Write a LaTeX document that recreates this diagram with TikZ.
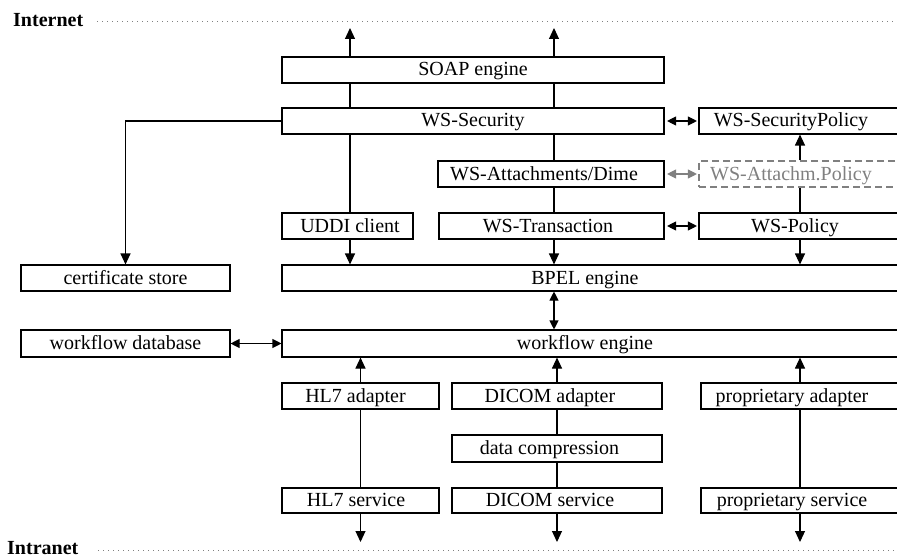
\documentclass[tikz,border=0pt]{standalone}
\usepackage{fontspec}
\setmainfont{Liberation Serif}
\usetikzlibrary{arrows.meta}

% \blk[style]{name}{x1}{y1}{x2}{y2}{text}: a box given by its corners
\newcommand\blk[7][]{%
  \pgfmathsetmacro\bw{#5-#3}\pgfmathsetmacro\bh{#6-#4}%
  \pgfmathsetmacro\bcx{(#3+#5)/2}\pgfmathsetmacro\bcy{(#4+#6)/2}%
  \node[box,#1,minimum width=\bw pt,minimum height=\bh pt] (#2) at (\bcx,\bcy) {#7};}

\tikzset{
  box/.style={draw, rectangle, line width=1.1pt, inner sep=0pt,
    text height=15pt, text depth=3pt, font=\fontsize{20}{24}\selectfont},
  ghost/.style={draw=gray, text=gray, dash pattern=on 7pt off 4pt},
  conn/.style={line width=1.1pt},
  arr/.style={conn, -{Triangle[length=11pt,width=10pt]}},
  dbl/.style={conn, {Triangle[length=9pt,width=9pt]}-{Triangle[length=9pt,width=9pt]}},
  dotline/.style={gray, line width=0.9pt, dash pattern=on 1pt off 4pt},
  zone/.style={font=\fontsize{20}{24}\selectfont\bfseries, inner sep=0pt}
}

\begin{document}
\begin{tikzpicture}[x=1pt, y=-1pt]
\useasboundingbox (0,0) rectangle (897,559);

% zone labels and separators
\node[zone, anchor=base west] (inet) at (13,27) {Internet};
\coordinate (ia) at (97,21); \coordinate (ib) at (897,21);
\draw[dotline] (ia) -- (ib);
\node[zone, anchor=base west] (intra) at (7,554) {Intranet};
\coordinate (na) at (98,550); \coordinate (nb) at (897,550);
\draw[dotline] (na) -- (nb);

% column positions of the vertical connectors
\coordinate (xa) at (350,28);
\coordinate (xc) at (554,28);
\coordinate (xr) at (800,0);
\coordinate (bot) at (0,542);

% web-service stack
\blk{soap}{282}{57}{664}{83}{SOAP engine}
\blk{wssec}{282}{108}{664}{134}{WS-Security}
\blk{wsatt}{438}{161}{664}{187}{WS-Attachments/Dime\hspace*{14pt}}
\blk{uddi}{282}{213}{413}{239}{\hspace*{5pt}UDDI client}
\blk{wstr}{439}{213}{664}{239}{WS-Transaction\hspace*{7pt}}
\blk{secpol}{699}{108}{905}{134}{WS-SecurityPolicy\hspace*{22pt}}
\blk[ghost]{attpol}{699}{161}{905}{187}{WS-Attachm.Policy\hspace*{22pt}}
\blk{wspol}{699}{213}{905}{239}{WS-Policy\hspace*{14pt}}

% engines and stores
\blk{cert}{21}{265}{230}{291}{certificate store}
\blk{bpel}{282}{265}{905}{291}{BPEL engine\hspace*{17pt}}
\blk{wfdb}{21}{330}{230}{357}{workflow database}
\blk{wfe}{282}{330}{905}{357}{workflow engine\hspace*{17pt}}

% adapters and services
\blk{hla}{282}{383}{439}{409}{HL7 adapter\hspace*{10pt}}
\blk{dca}{452}{383}{662}{409}{DICOM adapter\hspace*{14pt}}
\blk{comp}{452}{435}{662}{462}{data compression\hspace*{15pt}}
\blk{hls}{282}{488}{439}{513}{HL7 service\hspace*{9pt}}
\blk{dcs}{452}{488}{662}{513}{DICOM service\hspace*{14pt}}
\blk{pra}{701}{383}{905}{409}{proprietary adapter\hspace*{22pt}}
\blk{prs}{701}{488}{905}{513}{proprietary service\hspace*{22pt}}

% outgoing connections to the internet
\draw[arr] (soap.north -| xa) -- (xa);
\draw[arr] (soap.north -| xc) -- (xc);
\draw[conn] (soap.south -| xa) -- (wssec.north -| xa);
\draw[conn] (soap.south -| xc) -- (wssec.north -| xc);

% left branch through the UDDI client
\draw[conn] (wssec.south -| xa) -- (uddi.north -| xa);
\draw[arr] (uddi.south -| xa) -- (bpel.north -| xa);

% centre branch
\draw[conn] (wssec.south -| xc) -- (wsatt.north -| xc);
\draw[conn] (wsatt.south -| xc) -- (wstr.north -| xc);
\draw[arr] (wstr.south -| xc) -- (bpel.north -| xc);

% certificate store
\draw[arr] (wssec.west) -| (cert.north);

% policies
\draw[dbl, shorten <=2.5pt, shorten >=1.5pt] (wssec.east) -- (secpol.west);
\draw[dbl, gray, shorten <=2.5pt, shorten >=1.5pt] (wsatt.east) -- (attpol.west);
\draw[dbl, shorten <=2.5pt, shorten >=1.5pt] (wstr.east) -- (wspol.west);
\draw[conn] (wspol.north -| xr) -- (attpol.south -| xr);
\draw[arr] (attpol.north -| xr) -- (secpol.south -| xr);
\draw[arr] (wspol.south -| xr) -- (bpel.north -| xr);

% engines
\draw[dbl] (bpel.south -| xc) -- (wfe.north -| xc);
\draw[dbl] (wfdb.east) -- (wfe.west);

% intranet side
\draw[arr] (hla.north) -- (wfe.south -| hla.north);
\draw[conn] (hla.south) -- (hls.north);
\draw[arr] (hls.south) -- (hls.south |- bot);
\draw[arr] (dca.north) -- (wfe.south -| dca.north);
\draw[conn] (dca.south) -- (comp.north);
\draw[conn] (comp.south) -- (dcs.north);
\draw[arr] (dcs.south) -- (dcs.south |- bot);
\draw[arr] (pra.north -| xr) -- (wfe.south -| xr);
\draw[conn] (pra.south -| xr) -- (prs.north -| xr);
\draw[arr] (prs.south -| xr) -- (bot -| xr);
\end{tikzpicture}
\end{document}
